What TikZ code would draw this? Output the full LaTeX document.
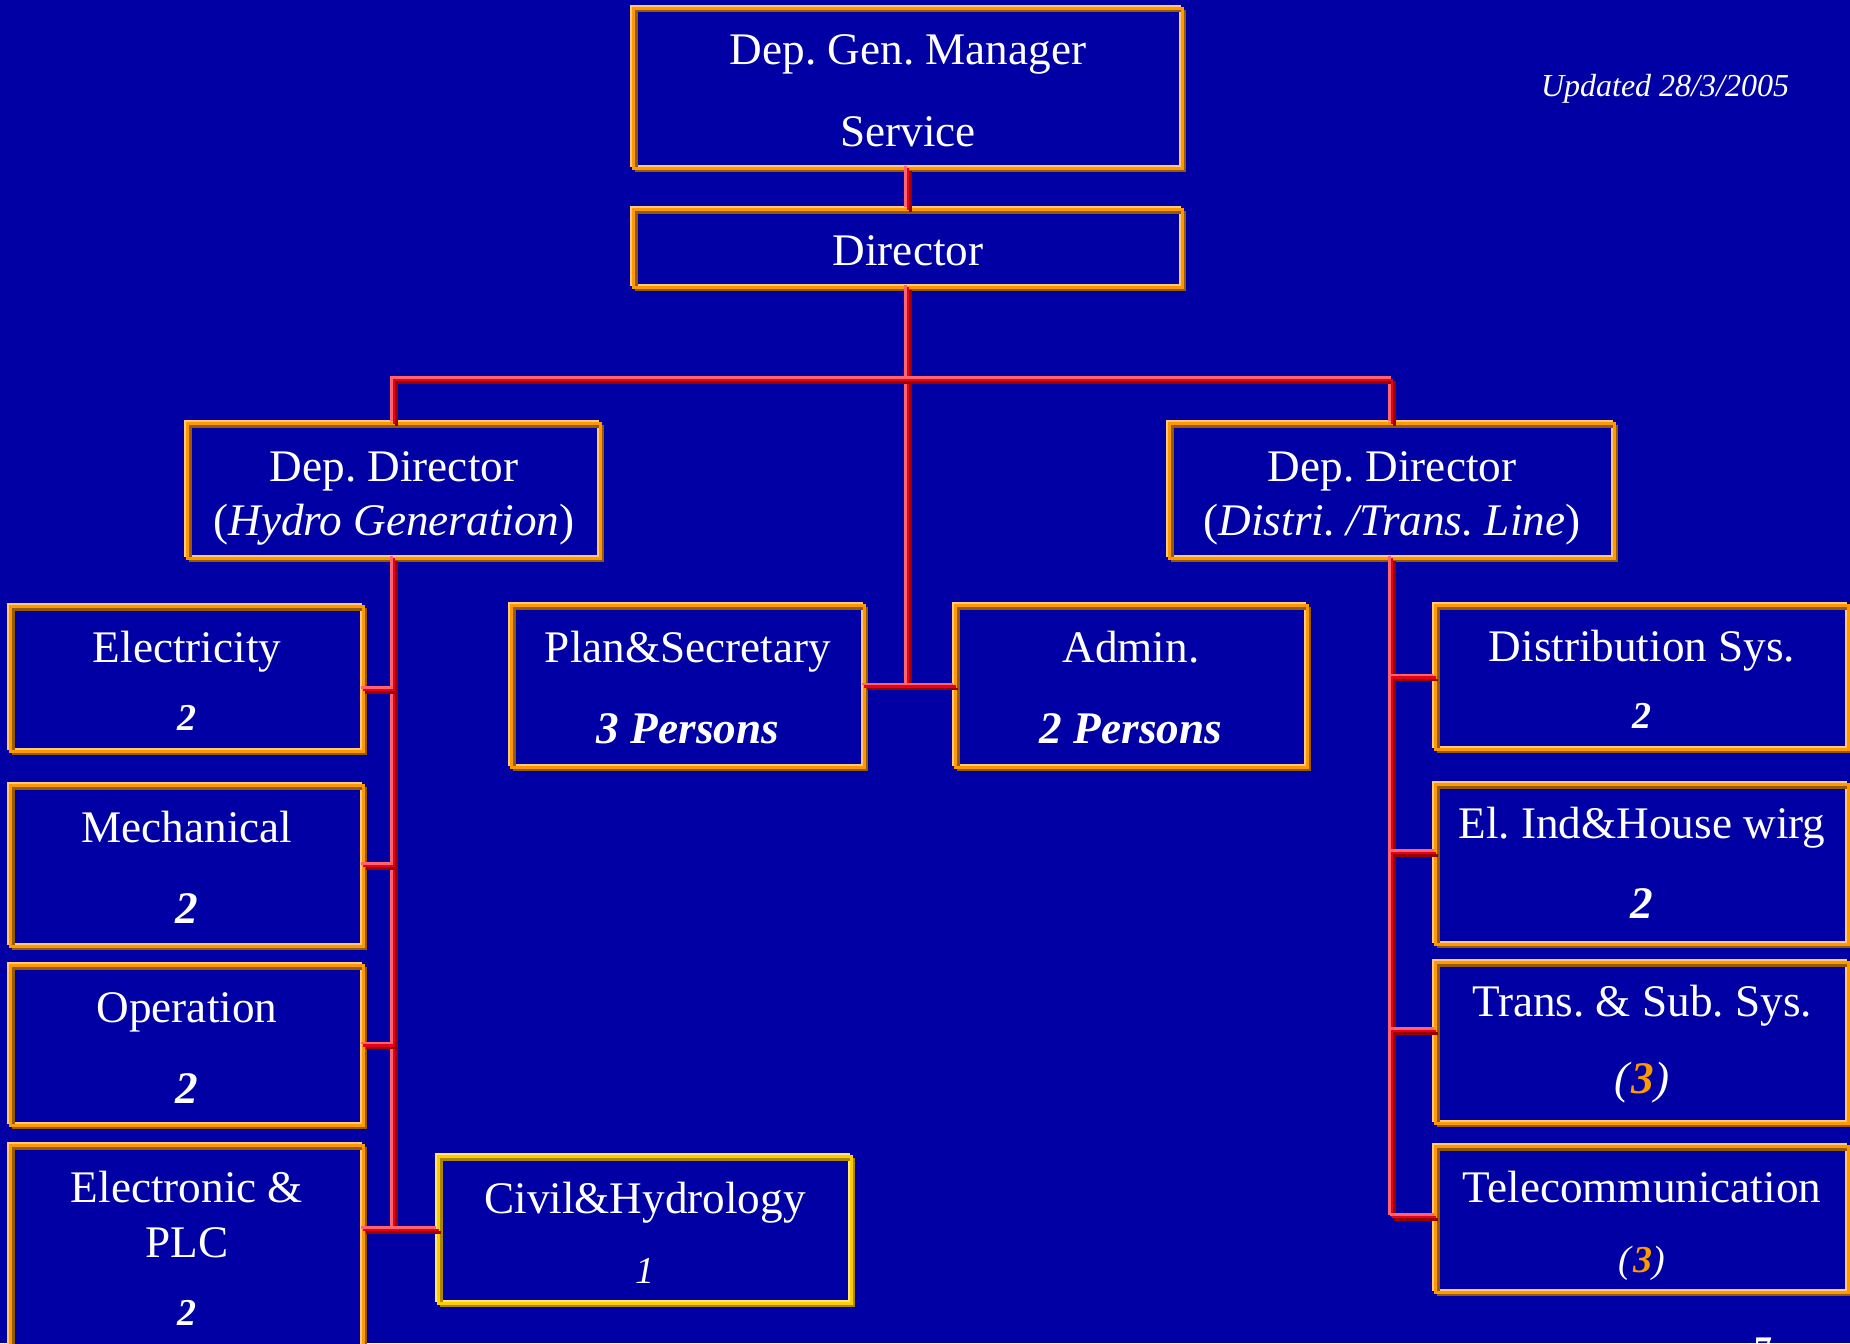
\documentclass[tikz,border=0pt]{standalone}
\usepackage{fontspec}
\setmainfont{Liberation Serif}
\usetikzlibrary{fit}
\definecolor{bg}{RGB}{0,0,164}
\definecolor{ohi}{RGB}{255,200,128}
\definecolor{omid}{RGB}{255,153,0}
\definecolor{olo}{RGB}{150,90,0}
\definecolor{yhi}{RGB}{255,230,128}
\definecolor{ymid}{RGB}{255,204,0}
\definecolor{ylo}{RGB}{170,135,0}
\definecolor{chi}{RGB}{255,100,110}
\definecolor{cmid}{RGB}{230,0,30}
\definecolor{clo}{RGB}{150,0,0}
\definecolor{numor}{RGB}{255,153,0}
\newcommand{\fmain}{\fontsize{22.6pt}{27pt}\selectfont}
\newcommand{\fsmall}{\fontsize{19pt}{23pt}\selectfont}
\newcommand{\orgbox}[6]{%
  \node[fit={(#2,#3) (#4,#5)}, inner sep=0pt, fill=bg] (#1) {};
  \draw[line width=1.3pt, #6hi] ([shift={(-2.6,-2.6)}]#1.north west) rectangle ([shift={(-2.6,-2.6)}]#1.south east);
  \draw[line width=1.3pt, #6lo] ([shift={(2.6,2.6)}]#1.north west) rectangle ([shift={(2.6,2.6)}]#1.south east);
  \draw[line width=1.3pt, #6mid] (#1.north west) rectangle (#1.south east);
}
\newcommand{\conn}[1]{%
  \draw[line width=1.3pt, chi, transform canvas={shift={(-1.2pt,1.2pt)}}] #1;
  \draw[line width=1.3pt, clo, transform canvas={shift={(1.2pt,-1.2pt)}}] #1;
  \draw[line width=1.3pt, cmid] #1;
}
\begin{document}
\frenchspacing
\begin{tikzpicture}[x=0.5pt,y=-0.5pt,
  txt/.style={text=white, inner sep=0pt, anchor=base, font=\fmain},
  num/.style={text=white, inner sep=0pt, anchor=base, font=\fmain\bfseries\itshape},
  snum/.style={text=white, inner sep=0pt, anchor=base, font=\fsmall\bfseries\itshape}]
\fill[bg] (0,0) rectangle (1850,1343);
\useasboundingbox (0,0) rectangle (1850,1343);

\coordinate (bar) at (907,380);
\coordinate (e1) at (363,690);
\coordinate (r2) at (1436,853);
\coordinate (r3) at (1436,1031);
\coordinate (r4) at (1436,1217);

% boxes
\orgbox{dgm}{634}{9}{1182}{168}{o}
\orgbox{dir}{634}{210}{1182}{287}{o}
\orgbox{hydro}{188}{424}{600}{558}{o}
\orgbox{distri}{1170}{424}{1614}{558}{o}
\orgbox{elec}{11}{607}{363}{751}{o}
\orgbox{mech}{11}{786}{363}{946}{o}
\orgbox{oper}{11}{966}{363}{1125}{o}
\orgbox{eplc}{11}{1146}{363}{1370}{o}
\orgbox{plan}{512}{606}{864}{767}{o}
\orgbox{admin}{956}{606}{1307}{767}{o}
\orgbox{civil}{439}{1157}{851}{1303}{y}
\orgbox{dsys}{1436}{606}{1848}{749}{o}
\orgbox{elind}{1436}{785}{1848}{944}{o}
\orgbox{trans}{1436}{963}{1848}{1123}{o}
\orgbox{tele}{1436}{1147}{1848}{1292}{o}

% connectors
\conn{(dgm.south) -- (dir.north)}
\conn{(dir.south) -- (dir.south |- plan.east)}
\conn{(plan.east) -- (admin.west)}
\conn{(hydro.north) |- (bar) -| (distri.north)}
\conn{(hydro.south) -- (hydro.south |- civil.west)}
\conn{(eplc.east |- civil.west) -- (civil.west)}
\conn{(e1) -- (e1 -| hydro.south)}
\conn{(mech.east) -- (mech.east -| hydro.south)}
\conn{(oper.east) -- (oper.east -| hydro.south)}
\conn{(distri.south) -- (distri.south |- r4)}
\conn{(dsys.west) -- (dsys.west -| distri.south)}
\conn{(r2) -- (r2 -| distri.south)}
\conn{(r3) -- (r3 -| distri.south)}
\conn{(r4) -- (r4 -| distri.south)}

% texts
\node[txt] (t1) at (908,65) {Dep. Gen. Manager};
\node[txt] (t2) at (908,146) {Service};
\node[txt] (t3) at (908,265) {Director};
\node[txt] (t4) at (394,481) {Dep. Director};
\node[txt] (t5) at (394,535) {(\textit{Hydro Generation})};
\node[txt] (t6) at (1392,481) {Dep. Director};
\node[txt] (t7) at (1392,535) {(\textit{Distri. /Trans. Line})};
\node[txt] (t8) at (187,662) {Electricity};
\node[snum] (t9) at (187,730) {2};
\node[txt] (t10) at (187,842) {Mechanical};
\node[num] (t11) at (187,923) {2};
\node[txt] (t12) at (187,1022) {Operation};
\node[num] (t13) at (187,1103) {2};
\node[txt] (t14) at (187,1202) {Electronic \&};
\node[txt] (t15) at (187,1257) {PLC};
\node[snum] (t16) at (187,1325) {2};
\node[txt] (t17) at (688,662) {Plan\&Secretary};
\node[num] (t18) at (688,743) {3 Persons};
\node[txt] (t19) at (1131,662) {Admin.};
\node[num] (t20) at (1131,743) {2 Persons};
\node[txt] (t21) at (645,1213) {Civil\&Hydrology};
\node[txt, font=\fsmall\itshape] (t22) at (645,1283) {1};
\node[txt] (t23) at (1642,661) {Distribution Sys.};
\node[snum] (t24) at (1642,728) {2};
\node[txt] (t25) at (1642,838) {El. Ind\&House wirg};
\node[num] (t26) at (1642,918) {2};
\node[txt] (t27) at (1642,1016) {Trans. \& Sub. Sys.};
\node[txt] (t28) at (1642,1093) {\textit{(}\textcolor{numor}{\bfseries\itshape 3}\textit{)}};
\node[txt] (t29) at (1642,1202) {Telecommunication};
\node[txt, font=\fsmall] (t30) at (1642,1272) {\textit{(}\textcolor{numor}{\bfseries\itshape 3}\textit{)}};
\node[txt, font=\fontsize{16pt}{19pt}\selectfont\itshape] (upd) at (1665,97) {Updated 28/3/2005};
\node[text=white, inner sep=0pt, anchor=north, font=\fontsize{18pt}{21pt}\selectfont\bfseries] (pg) at (1763,1338) {7};
\end{tikzpicture}
\end{document}
